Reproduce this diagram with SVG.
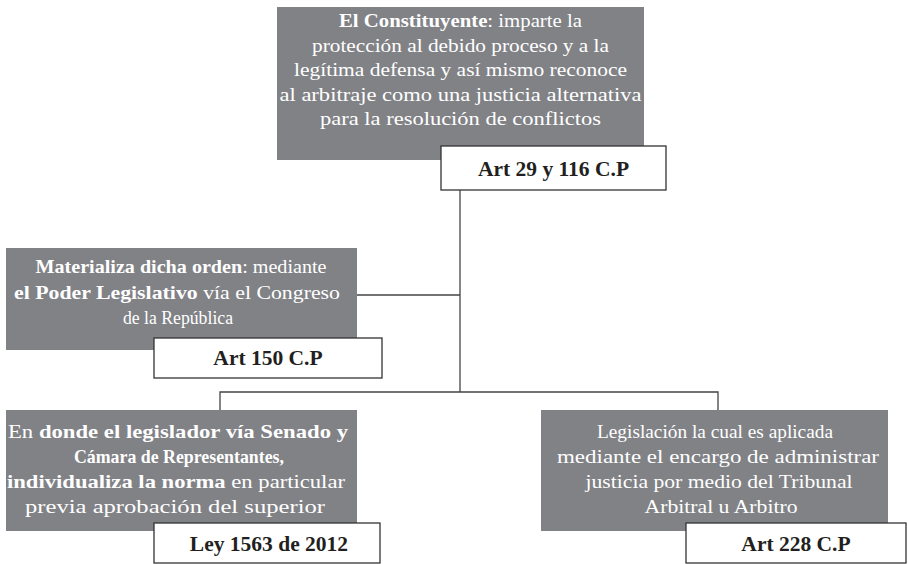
<svg xmlns="http://www.w3.org/2000/svg" width="908" height="564" viewBox="0 0 908 564">
<style>
.box{fill:#818286}
.lab{fill:#ffffff;stroke:#333333;stroke-width:1.3}
.t{font-family:"Liberation Serif","Times New Roman",serif;font-size:19.5px;fill:#ffffff;text-anchor:middle}
.b{font-weight:bold}
.lt{font-family:"Liberation Serif","Times New Roman",serif;font-size:21.5px;font-weight:bold;fill:#231f20;text-anchor:middle}
.c{stroke:#444444;stroke-width:1.3;fill:none}
</style>
<rect width="908" height="564" fill="#ffffff"/>
<g id="connectors">
<path class="c" d="M460 190 V392"/>
<path class="c" d="M357 295 H460"/>
<path class="c" d="M220 410 V392 H718 V410"/>
</g>
<g id="n1">
<rect class="box" x="277" y="7" width="367" height="153"/>
<text class="t" x="460.5" y="27" textLength="243" lengthAdjust="spacingAndGlyphs"><tspan class="b">El Constituyente</tspan>: imparte la</text>
<text class="t" x="460.5" y="51.5" textLength="297" lengthAdjust="spacingAndGlyphs">protección al debido proceso y a la</text>
<text class="t" x="460.5" y="76" textLength="333" lengthAdjust="spacingAndGlyphs">legítima defensa y así mismo reconoce</text>
<text class="t" x="460.5" y="100.5" textLength="362" lengthAdjust="spacingAndGlyphs">al arbitraje como una justicia alternativa</text>
<text class="t" x="460.5" y="125" textLength="281" lengthAdjust="spacingAndGlyphs">para la resolución de conflictos</text>
</g>
<g id="l1">
<rect class="lab" x="441" y="146" width="225" height="44"/>
<text class="lt" x="553.5" y="176">Art 29 y 116 C.P</text>
</g>
<g id="n2">
<rect class="box" x="6" y="248" width="351" height="102"/>
<text class="t" x="181" y="273" textLength="291" lengthAdjust="spacingAndGlyphs"><tspan class="b">Materializa dicha orden</tspan>: mediante</text>
<text class="t" x="177" y="298.5" textLength="326" lengthAdjust="spacingAndGlyphs"><tspan class="b">el Poder Legislativo</tspan> vía el Congreso</text>
<text class="t" x="178" y="324" textLength="110" lengthAdjust="spacingAndGlyphs">de la República</text>
</g>
<g id="l2">
<rect class="lab" x="154" y="338" width="228" height="40"/>
<text class="lt" x="268" y="365">Art 150 C.P</text>
</g>
<g id="n3">
<rect class="box" x="6" y="410" width="351" height="121"/>
<text class="t" x="178" y="438" textLength="340" lengthAdjust="spacingAndGlyphs">En <tspan class="b">donde el legislador vía Senado y</tspan></text>
<text class="t" x="179" y="463" textLength="210" lengthAdjust="spacingAndGlyphs"><tspan class="b">Cámara de Representantes,</tspan></text>
<text class="t" x="176" y="488" textLength="338" lengthAdjust="spacingAndGlyphs"><tspan class="b">individualiza la norma</tspan> en particular</text>
<text class="t" x="175" y="513" textLength="300" lengthAdjust="spacingAndGlyphs">previa aprobación del superior</text>
</g>
<g id="l3">
<rect class="lab" x="154" y="523" width="226" height="40"/>
<text class="lt" x="269" y="551">Ley 1563 de 2012</text>
</g>
<g id="n4">
<rect class="box" x="541" y="410" width="347" height="121"/>
<text class="t" x="715" y="438" textLength="236" lengthAdjust="spacingAndGlyphs">Legislación la cual es aplicada</text>
<text class="t" x="718" y="463" textLength="322" lengthAdjust="spacingAndGlyphs">mediante el encargo de administrar</text>
<text class="t" x="719" y="488" textLength="267" lengthAdjust="spacingAndGlyphs">justicia por medio del Tribunal</text>
<text class="t" x="721" y="513" textLength="153" lengthAdjust="spacingAndGlyphs">Arbitral u Arbitro</text>
</g>
<g id="l4">
<rect class="lab" x="686" y="523" width="220" height="40"/>
<text class="lt" x="796" y="551">Art 228 C.P</text>
</g>
</svg>
